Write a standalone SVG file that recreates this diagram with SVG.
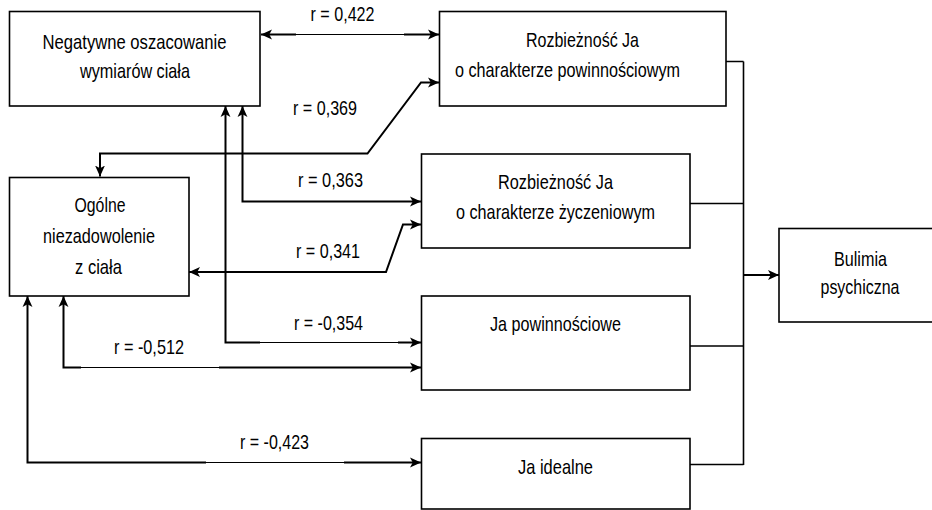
<svg xmlns="http://www.w3.org/2000/svg" width="932" height="510" viewBox="0 0 932 510">
<style>
.box{fill:#fff;stroke:#000;stroke-width:1.6}
.t{font-family:"Liberation Sans Narrow","Liberation Sans",Arial,sans-serif;font-size:21px;fill:#000;text-anchor:middle}
.c{fill:none;stroke:#000;stroke-width:2}
.thin{fill:none;stroke:#000;stroke-width:1}
.bus{fill:none;stroke:#000;stroke-width:1.6}
</style>
<defs>
<marker id="ah" viewBox="0 0 10 10" markerUnits="userSpaceOnUse" markerWidth="11" markerHeight="11" refX="10" refY="5" orient="auto-start-reverse">
<path d="M0,0.5 L10,5 L0,9.5 L2.5,5 Z" fill="#000"/>
</marker>
</defs>
<g id="connectors">
<path class="c" d="M261,34.5 H296" marker-start="url(#ah)"/>
<path class="thin" d="M296,34.5 H404"/>
<path class="c" d="M404,34.5 H439" marker-end="url(#ah)"/>
<path class="c" d="M100,176.5 V153.5 H367.5 L421,82.5 H439" marker-start="url(#ah)" marker-end="url(#ah)"/>
<path class="c" d="M242.5,106 V201.5 H421" marker-start="url(#ah)" marker-end="url(#ah)"/>
<path class="c" d="M189,272 H386 L403,224.5 H421" marker-start="url(#ah)" marker-end="url(#ah)"/>
<path class="c" d="M225.5,106 V342.5 H260" marker-start="url(#ah)"/>
<path class="thin" d="M260,342.5 H398"/>
<path class="c" d="M398,342.5 H421" marker-end="url(#ah)"/>
<path class="c" d="M63.5,296 V367.5 H81" marker-start="url(#ah)"/>
<path class="thin" d="M81,367.5 H219"/>
<path class="c" d="M219,367.5 H421" marker-end="url(#ah)"/>
<path class="c" d="M27.5,296 V462.5 H206" marker-start="url(#ah)"/>
<path class="thin" d="M206,462.5 H344"/>
<path class="c" d="M344,462.5 H421" marker-end="url(#ah)"/>
<path class="bus" d="M726,61.5 H743.5 M690,203.5 H743.5 M690,346 H743.5 M690,464.5 H743.5 M743.5,61.5 V465"/>
<path class="c" d="M743.5,275 H779" marker-end="url(#ah)"/>
<text class="t" x="342.5" y="21" textLength="64" lengthAdjust="spacingAndGlyphs">r = 0,422</text>
<text class="t" x="325" y="115" textLength="64" lengthAdjust="spacingAndGlyphs">r = 0,369</text>
<text class="t" x="330.5" y="187" textLength="65" lengthAdjust="spacingAndGlyphs">r = 0,363</text>
<text class="t" x="328" y="257.5" textLength="64" lengthAdjust="spacingAndGlyphs">r = 0,341</text>
<text class="t" x="328.5" y="329.5" textLength="69" lengthAdjust="spacingAndGlyphs">r = -0,354</text>
<text class="t" x="149" y="353.5" textLength="70" lengthAdjust="spacingAndGlyphs">r = -0,512</text>
<text class="t" x="274.5" y="448.5" textLength="69" lengthAdjust="spacingAndGlyphs">r = -0,423</text>
</g>
<g id="negatywne">
<rect class="box" x="9.5" y="11.5" width="250.5" height="94.5"/>
<text class="t" x="134.5" y="48.5" textLength="184" lengthAdjust="spacingAndGlyphs">Negatywne oszacowanie</text>
<text class="t" x="135" y="78" textLength="110" lengthAdjust="spacingAndGlyphs">wymiarów ciała</text>
</g>
<g id="rozbieznosc-powinnosciowa">
<rect class="box" x="439.5" y="11.5" width="286.5" height="94.5"/>
<text class="t" x="582.5" y="47" textLength="113" lengthAdjust="spacingAndGlyphs">Rozbieżność Ja</text>
<text class="t" x="567.5" y="77" textLength="225" lengthAdjust="spacingAndGlyphs">o charakterze powinnościowym</text>
</g>
<g id="rozbieznosc-zyczeniowa">
<rect class="box" x="421.5" y="154" width="268.5" height="94"/>
<text class="t" x="555.5" y="189" textLength="115" lengthAdjust="spacingAndGlyphs">Rozbieżność Ja</text>
<text class="t" x="555.5" y="219" textLength="199" lengthAdjust="spacingAndGlyphs">o charakterze życzeniowym</text>
</g>
<g id="ogolne">
<rect class="box" x="9.5" y="177.5" width="179.5" height="118.5"/>
<text class="t" x="100" y="211.5" textLength="51" lengthAdjust="spacingAndGlyphs">Ogólne</text>
<text class="t" x="99" y="242.5" textLength="112" lengthAdjust="spacingAndGlyphs">niezadowolenie</text>
<text class="t" x="98.5" y="273.5" textLength="47" lengthAdjust="spacingAndGlyphs">z ciała</text>
</g>
<g id="ja-powinnosciowe">
<rect class="box" x="421.5" y="296" width="268.5" height="94"/>
<text class="t" x="555.5" y="331" textLength="131" lengthAdjust="spacingAndGlyphs">Ja powinnościowe</text>
</g>
<g id="ja-idealne">
<rect class="box" x="421.5" y="438.5" width="268.5" height="70.5"/>
<text class="t" x="555.5" y="473.5" textLength="75" lengthAdjust="spacingAndGlyphs">Ja idealne</text>
</g>
<g id="bulimia">
<rect class="box" x="779" y="228.5" width="162" height="93.5"/>
<text class="t" x="860.5" y="266" textLength="53" lengthAdjust="spacingAndGlyphs">Bulimia</text>
<text class="t" x="860" y="293.5" textLength="79" lengthAdjust="spacingAndGlyphs">psychiczna</text>
</g>
</svg>
